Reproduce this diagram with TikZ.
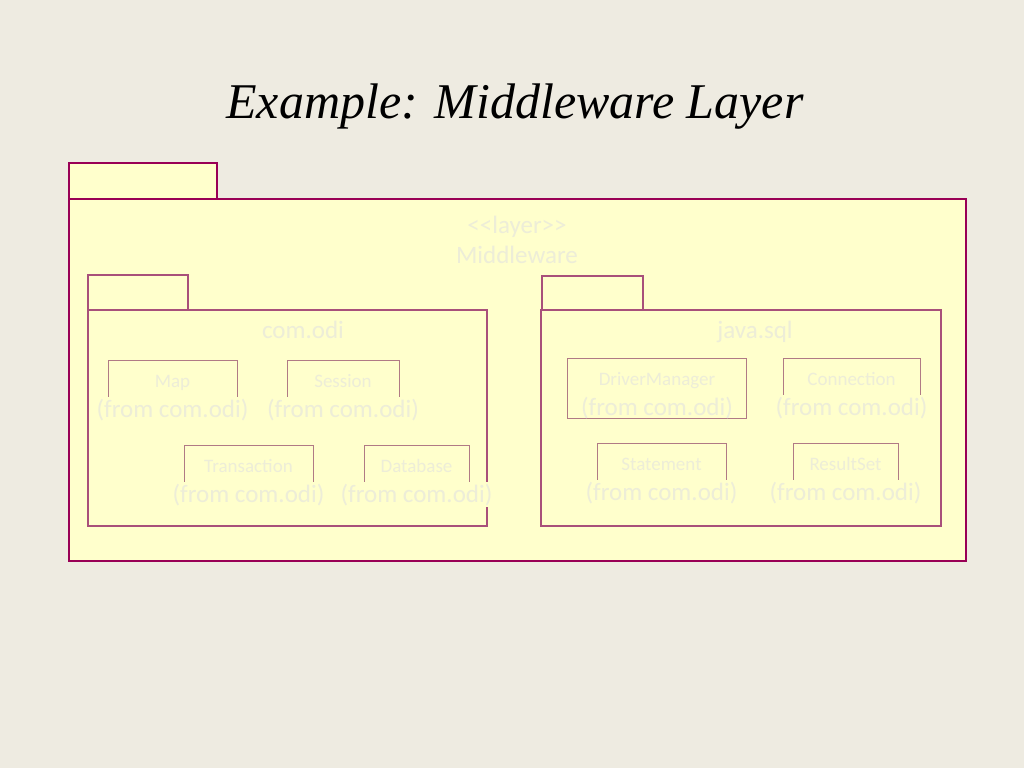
\documentclass[tikz,border=0pt]{standalone}
\usepackage{fontspec}
\setmainfont{Liberation Serif}
\newfontfamily\umlfont{Carlito}
\definecolor{slidebg}{HTML}{EEEBE1}
\definecolor{umlyellow}{HTML}{FFFFCC}
\definecolor{layerline}{HTML}{990055}
\definecolor{pkgline}{HTML}{A8507A}
\definecolor{clsline}{HTML}{B07A85}
\definecolor{umltext}{HTML}{EDEDD8}
\begin{document}
\begin{tikzpicture}[x=1pt, y=-1pt,
    pkg/.style={draw=pkgline, fill=umlyellow, line width=1.1pt},
    cls/.style={draw=clsline, line width=1pt},
    lbl/.style={anchor=base, text=umltext, font=\umlfont\fontsize{19}{19}\selectfont, inner sep=0pt},
    big/.style={anchor=base, text=umltext, font=\umlfont\fontsize{25}{25}\selectfont, inner sep=0pt},
    from/.style={big, fill=umlyellow, inner sep=1.5pt}]
    \fill[slidebg] (0,0) rectangle (1024,768);
    \useasboundingbox (0,0) rectangle (1024,768);

    % Draw the title of the slide
    \node[anchor=base, font=\fontsize{50}{50}\selectfont\itshape] (title) at (515,118) {Example: Middleware Layer};

    % Draw the layer package with its tab
    \draw[pkg, draw=layerline, line width=1.4pt] (69,163) rectangle (217,199);
    \draw[pkg, draw=layerline, line width=1.4pt] (69,199) rectangle (966,561);
    \node[big] (stereo) at (517,233) {<\kern0pt<layer>\kern0pt>};
    \node[big] (layername) at (517,263) {Middleware};

    % Draw the two packages inside the layer
    \draw[pkg] (88,275) rectangle (188,310);
    \draw[pkg] (88,310) rectangle (487,526);
    \node[big] (comodi) at (303,338) {com.odi};
    \draw[pkg] (542,276) rectangle (643,310);
    \draw[pkg] (541,310) rectangle (941,526);
    \node[big] (javasql) at (755,338) {java.sql};

    % Draw the classes, the lower part is hidden by the from text
    \foreach \n/\x/\y/\w in {Map/108/360/129, Session/287/360/112,
        Transaction/184/445/129, Database/364/445/105,
        Connection/783/358/137, Statement/597/443/129, ResultSet/793/443/105} {
        \draw[cls] (\x,\y) rectangle +(\w,50);
        \node[lbl] (\n) at ({\x+\w/2},{\y+27}) {\n};
        \node[from] (\n-from) at ({\x+\w/2},{\y+57}) {(from com.odi)};
    }
    \draw[cls] (567,358) rectangle (746,418);
    \node[lbl] (DriverManager) at (657,385) {DriverManager};
    \node[from, fill=none] (DriverManager-from) at (657,415) {(from com.odi)};
\end{tikzpicture}
\end{document}
